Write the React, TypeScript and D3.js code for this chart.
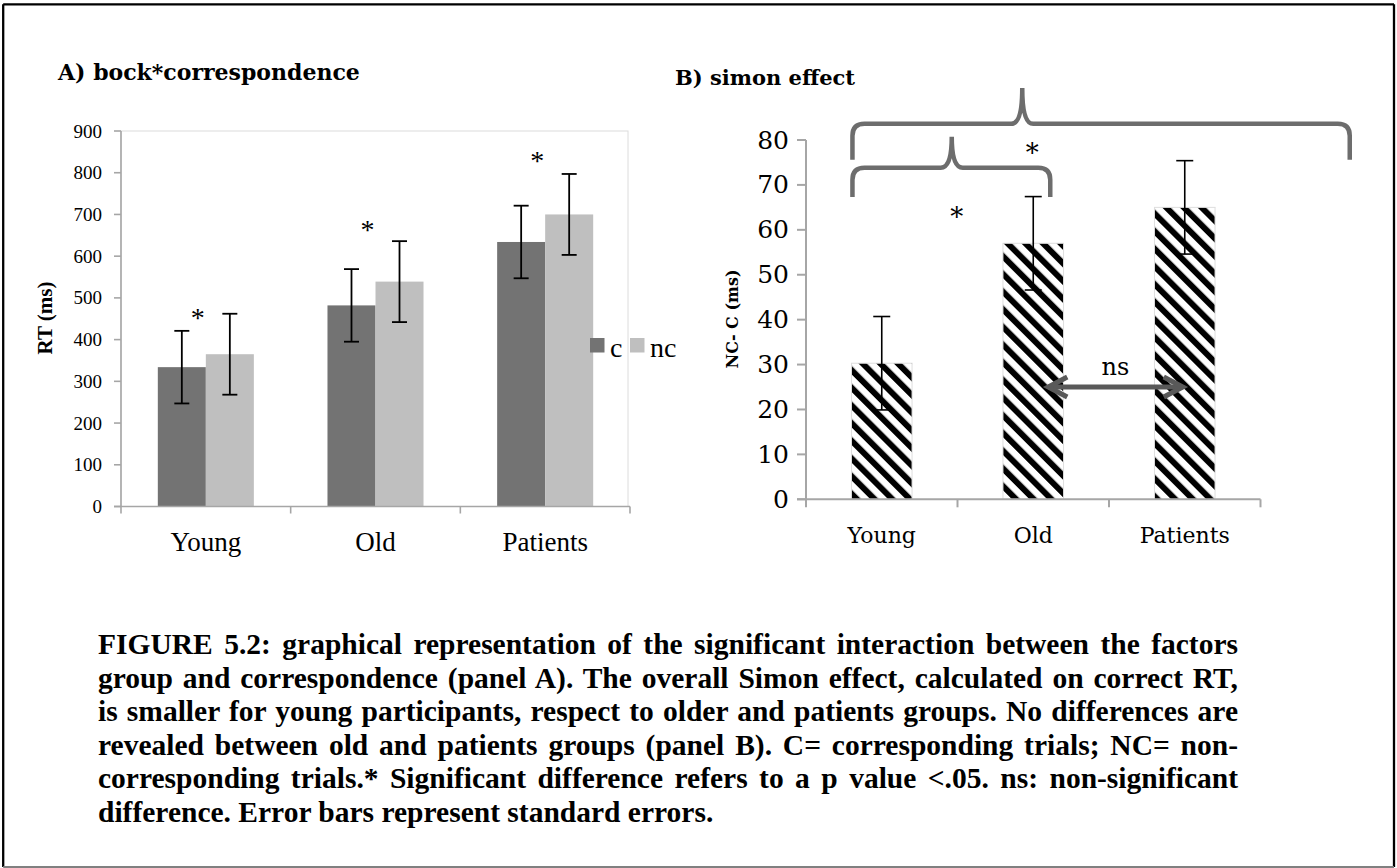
import { useEffect, useRef } from "react";
import * as d3 from "d3";

const WIDTH = 1397;
const HEIGHT = 868;

// panel A: RT by group and correspondence
const GROUPS = ["Young", "Old", "Patients"];
const RT_C = [334, 482, 634];
const RT_NC = [365, 539, 700];
const SE_C = [87, 87, 87];
const SE_NC = [97, 97, 97];
const STAR_A = [462, 673, 839];
const TICKS_A = [0, 100, 200, 300, 400, 500, 600, 700, 800, 900];

// panel B: simon effect (NC - C)
const SIMON = [30.3, 57, 65];
const SIMON_SE = [10.4, 10.4, 10.4];
const TICKS_B = [0, 10, 20, 30, 40, 50, 60, 70, 80];

const CAPTION = [
  "FIGURE 5.2: graphical representation of the significant interaction between the factors",
  "group and correspondence (panel A). The overall Simon effect, calculated on correct RT,",
  "is smaller for young participants, respect to older and patients groups. No differences are",
  "revealed between old and patients groups (panel B). C= corresponding trials; NC= non-",
  "corresponding trials.* Significant difference refers to a p value <.05. ns: non-significant",
  "difference. Error bars represent standard errors.",
];

const COLOR_C = "#737373";
const COLOR_NC = "#bfbfbf";
const AXIS = "#a6a6a6";
const BRACE = "#6d6d6d";

const SERIF_A = "'Liberation Serif', serif";
const SERIF_B = "'DejaVu Serif', serif";

const PA = { left: 121, right: 630, top: 131, bottom: 506.5 };
const PB = { left: 806, right: 1260.5, top: 140, bottom: 499.3 };
const CAP = { left: 98, right: 1238, top: 654, lineH: 33.6 };

export default function App() {
  const captionRef = useRef<SVGGElement>(null);

  const yA = d3.scaleLinear().domain([0, 900]).range([PA.bottom, PA.top]);
  const xA = d3.scaleBand().domain(GROUPS).range([PA.left, PA.right]);
  const barA = xA.bandwidth() * 0.283;

  const yB = d3.scaleLinear().domain([0, 80]).range([PB.bottom, PB.top]);
  const xB = d3.scaleBand().domain(GROUPS).range([PB.left, PB.right]);
  const barB = xB.bandwidth() * 0.4;
  const cB = (g: string) => xB(g)! + xB.bandwidth() / 2;
  const cA = (g: string) => xA(g)! + xA.bandwidth() / 2;

  // justify the caption lines the way the document did
  useEffect(() => {
    const run = () => {
      const g = captionRef.current;
      if (!g) return;
      g.querySelectorAll("text[data-justify]").forEach((t) => {
        const el = t as SVGTextElement;
        el.style.wordSpacing = "0px";
        const natural = el.getComputedTextLength();
        const spaces = (el.textContent || "").split(" ").length - 1;
        const extra = (CAP.right - CAP.left - natural) / spaces;
        el.style.wordSpacing = `${extra}px`;
      });
    };
    run();
    (document as any).fonts?.ready?.then(run);
  }, []);

  const brace = (x1: number, x2: number, xPeak: number, yEnd: number, yBar: number, yPeak: number) => {
    const r = 12;
    const q = 11;
    return [
      `M${x1},${yEnd}`,
      `L${x1},${yBar + r}`,
      `Q${x1},${yBar} ${x1 + r},${yBar}`,
      `L${xPeak - q},${yBar}`,
      `Q${xPeak},${yBar} ${xPeak},${yPeak}`,
      `Q${xPeak},${yBar} ${xPeak + q},${yBar}`,
      `L${x2 - r},${yBar}`,
      `Q${x2},${yBar} ${x2},${yBar + r}`,
      `L${x2},${yEnd}`,
    ].join(" ");
  };

  const errBar = (x: number, y0: number, y1: number, cap: number, key: string, w = 1.8) => (
    <g key={key} stroke="#000" strokeWidth={w}>
      <line x1={x} x2={x} y1={y0} y2={y1} />
      <line x1={x - cap} x2={x + cap} y1={y0} y2={y0} />
      <line x1={x - cap} x2={x + cap} y1={y1} y2={y1} />
    </g>
  );

  const braceLeft = cB("Young") - barB / 2 + 1;
  const arrowY = yB(25);
  const arrowL = cB("Old") + 13;
  const arrowR = cB("Patients");

  return (
    <div style={{ position: "absolute", left: 0, top: 0 }}>
      <svg width={WIDTH} height={HEIGHT} style={{ display: "block", background: "#fff" }}>
        <defs>
          <pattern id="hatch" patternUnits="userSpaceOnUse" width={12.5} height={12.5} patternTransform="rotate(-45)">
            <rect width={12.5} height={12.5} fill="#fff" />
            <rect width={6} height={12.5} fill="#000" />
          </pattern>
        </defs>

        {/* page frame */}
        <line x1={3.2} x2={1394} y1={4.3} y2={4.3} stroke="#000" strokeWidth={2.3} />
        <line x1={3.2} x2={3.2} y1={4.3} y2={867} stroke="#000" strokeWidth={2.3} />
        <line x1={1394} x2={1394} y1={4.3} y2={867} stroke="#000" strokeWidth={2.3} />
        <line x1={3.2} x2={1394} y1={867} y2={867} stroke="#808080" strokeWidth={2} />

        {/* ---------- panel A ---------- */}
        <text x={58} y={80} fontFamily={SERIF_B} fontWeight="bold" fontSize={22}>
          A) bock*correspondence
        </text>
        <rect x={PA.left} y={PA.top} width={628 - PA.left} height={PA.bottom - PA.top} fill="none" stroke="#dcdcdc" strokeWidth={1} />

        {GROUPS.map((g, i) => {
          const c = cA(g);
          return (
            <g key={g}>
              <rect x={c - barA} y={yA(RT_C[i])} width={barA} height={PA.bottom - yA(RT_C[i])} fill={COLOR_C} />
              <rect x={c} y={yA(RT_NC[i])} width={barA} height={PA.bottom - yA(RT_NC[i])} fill={COLOR_NC} />
            </g>
          );
        })}
        {GROUPS.map((g, i) => {
          const c = cA(g);
          return (
            <g key={"e" + g}>
              {errBar(c - barA / 2, yA(RT_C[i] + SE_C[i]), yA(RT_C[i] - SE_C[i]), 7.5, "c")}
              {errBar(c + barA / 2, yA(RT_NC[i] + SE_NC[i]), yA(RT_NC[i] - SE_NC[i]), 7.5, "nc")}
              <text x={c - 8} y={yA(STAR_A[i])} dy="0.47em" textAnchor="middle" fontFamily={SERIF_A} fontSize={28}>
                *
              </text>
            </g>
          );
        })}

        <line x1={PA.left} x2={PA.left} y1={PA.top} y2={PA.bottom} stroke={AXIS} strokeWidth={1.6} />
        <line x1={PA.left - 7} x2={PA.right} y1={PA.bottom} y2={PA.bottom} stroke={AXIS} strokeWidth={1.6} />
        {TICKS_A.map((t) => (
          <g key={t}>
            <line x1={PA.left - 7} x2={PA.left} y1={yA(t)} y2={yA(t)} stroke={AXIS} strokeWidth={1.6} />
            <text x={102} y={yA(t)} dominantBaseline="central" textAnchor="end" fontFamily={SERIF_A} fontSize={19}>
              {t}
            </text>
          </g>
        ))}
        {[...GROUPS.map((g) => xA(g)!), PA.right].map((x, i) => (
          <line key={i} x1={x} x2={x} y1={PA.bottom} y2={PA.bottom + 7} stroke={AXIS} strokeWidth={1.6} />
        ))}
        {GROUPS.map((g) => (
          <text key={g} x={cA(g)} y={551} textAnchor="middle" fontFamily={SERIF_A} fontSize={27}>
            {g}
          </text>
        ))}
        <text transform="translate(52,318) rotate(-90)" textAnchor="middle" fontFamily={SERIF_A} fontWeight="bold" fontSize={21}>
          RT (ms)
        </text>

        {/* legend */}
        <rect x={590} y={338} width={14.5} height={14.5} fill={COLOR_C} />
        <text x={610} y={356.5} fontFamily={SERIF_A} fontSize={28}>c</text>
        <rect x={630} y={338} width={14.5} height={14.5} fill={COLOR_NC} />
        <text x={650} y={356.5} fontFamily={SERIF_A} fontSize={28}>nc</text>

        {/* ---------- panel B ---------- */}
        <text x={675} y={85} fontFamily={SERIF_B} fontWeight="bold" fontSize={21}>
          B) simon effect
        </text>

        {GROUPS.map((g, i) => (
          <rect
            key={g}
            x={cB(g) - barB / 2}
            y={yB(SIMON[i])}
            width={barB}
            height={PB.bottom - yB(SIMON[i])}
            fill="url(#hatch)"
            stroke="#dedede"
            strokeWidth={1}
          />
        ))}
        {GROUPS.map((g, i) =>
          errBar(cB(g), yB(SIMON[i] + SIMON_SE[i]), yB(SIMON[i] - SIMON_SE[i]), 8.5, "eb" + g, 1.6)
        )}

        <line x1={PB.left} x2={PB.left} y1={PB.top} y2={PB.bottom} stroke={AXIS} strokeWidth={2} />
        <line x1={PB.left - 9} x2={PB.right} y1={PB.bottom} y2={PB.bottom} stroke={AXIS} strokeWidth={2} />
        {TICKS_B.map((t) => (
          <g key={t}>
            <line x1={PB.left - 9} x2={PB.left} y1={yB(t)} y2={yB(t)} stroke={AXIS} strokeWidth={2} />
            <text x={789} y={yB(t)} dominantBaseline="central" textAnchor="end" fontFamily={SERIF_B} fontSize={25}>
              {t}
            </text>
          </g>
        ))}
        {[...GROUPS.map((g) => xB(g)!), PB.right].map((x, i) => (
          <line key={i} x1={x} x2={x} y1={PB.bottom} y2={PB.bottom + 8} stroke={AXIS} strokeWidth={2} />
        ))}
        {GROUPS.map((g) => (
          <text key={g} x={cB(g)} y={542.7} textAnchor="middle" fontFamily={SERIF_B} fontSize={22}>
            {g}
          </text>
        ))}
        <text transform="translate(738,319) rotate(-90)" textAnchor="middle" fontFamily={SERIF_B} fontWeight="bold" fontSize={16}>
          NC- C (ms)
        </text>

        {/* significance braces */}
        <path
          d={brace(braceLeft, cB("Old") + 17, cB("Young") + 70, yB(67.3), yB(73.8), yB(80.7))}
          fill="none"
          stroke={BRACE}
          strokeWidth={4.5}
        />
        <path
          d={brace(braceLeft, cB("Patients") + 165, cB("Old") - 11, yB(75.6), yB(83.6), yB(91.6))}
          fill="none"
          stroke={BRACE}
          strokeWidth={4.5}
        />
        <text x={cB("Old") - 1} y={yB(78.3)} dy="0.56em" textAnchor="middle" fontFamily={SERIF_B} fontSize={26}>*</text>
        <text x={cB("Young") + 75} y={yB(64)} dy="0.56em" textAnchor="middle" fontFamily={SERIF_B} fontSize={26}>*</text>

        {/* ns arrow */}
        <g stroke="#595959" strokeWidth={5} fill="none" strokeLinejoin="miter">
          <line x1={arrowL + 2} x2={arrowR - 2} y1={arrowY} y2={arrowY} />
          <polyline points={`${arrowL + 21},${arrowY - 10} ${arrowL + 2},${arrowY} ${arrowL + 21},${arrowY + 10}`} />
          <polyline points={`${arrowR - 21},${arrowY - 10} ${arrowR - 2},${arrowY} ${arrowR - 21},${arrowY + 10}`} />
        </g>
        <text x={(arrowL + arrowR) / 2} y={arrowY - 12} textAnchor="middle" fontFamily={SERIF_B} fontSize={24}>
          ns
        </text>

        {/* ---------- caption ---------- */}
        <g ref={captionRef} fontFamily="'Liberation Serif', serif" fontWeight="bold" fontSize={29.5}>
          {CAPTION.map((line, i) => (
            <text
              key={i}
              x={CAP.left}
              y={CAP.top + i * CAP.lineH}
              data-justify={i < CAPTION.length - 1 ? "1" : undefined}
            >
              {line}
            </text>
          ))}
        </g>
      </svg>
    </div>
  );
}
